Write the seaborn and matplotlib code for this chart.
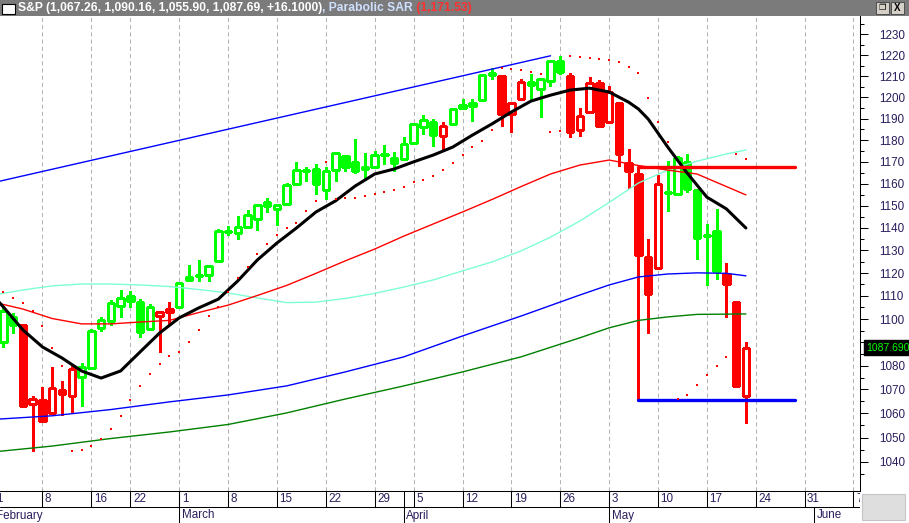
import numpy as np
import pandas as pd
import matplotlib
matplotlib.use("Agg")
import matplotlib.pyplot as plt
import matplotlib.transforms as mtransforms
from matplotlib.patches import Rectangle
from matplotlib.ticker import FixedLocator, FuncFormatter
import seaborn as sns

# ---- daily bars, S&P 500, Feb - May 2010 ----
feb_days = [1, 2, 3, 4, 5, 8, 9, 10, 11, 12, 16, 17, 18, 19, 22, 23, 24, 25, 26]
mar_days = [1, 2, 3, 4, 5, 8, 9, 10, 11, 12, 15, 16, 17, 18, 19, 22, 23, 24, 25, 26, 29, 30, 31]
apr_days = [1, 5, 6, 7, 8, 9, 12, 13, 14, 15, 16, 19, 20, 21, 22, 23, 26, 27, 28, 29, 30]
may_days = [3, 4, 5, 6, 7, 10, 11, 12, 13, 14, 17, 18, 19, 20, 21]

opens = [1073.89, 1090.05, 1100.67, 1097.25, 1064.12, 1065.51, 1060.06, 1069.68, 1067.10, 1075.30,
         1079.13, 1096.14, 1099.03, 1105.49, 1110.00, 1107.49, 1095.89, 1101.24, 1103.10,
         1105.36, 1117.01, 1119.36, 1119.12, 1125.12, 1138.40, 1137.56, 1140.22, 1143.96, 1151.71,
         1148.53, 1150.83, 1159.94, 1166.13, 1166.68, 1157.25, 1166.47, 1172.70, 1170.03, 1167.58,
         1167.71, 1173.75, 1171.75,
         1171.23, 1178.71, 1186.01, 1188.23, 1181.75, 1187.47, 1194.94, 1195.94, 1198.69, 1210.77,
         1210.17, 1192.06, 1199.04, 1207.16, 1203.79, 1207.87, 1217.07, 1209.92, 1184.59, 1193.30,
         1206.77,
         1188.58, 1197.50, 1169.24, 1164.38, 1127.04, 1122.27, 1156.39, 1155.43, 1170.04, 1157.19,
         1136.52, 1138.78, 1119.57, 1107.34, 1067.26]
highs = [1089.38, 1104.73, 1102.72, 1097.25, 1067.13, 1071.20, 1079.28, 1073.67, 1080.04, 1081.00,
         1095.67, 1101.03, 1108.24, 1112.42, 1112.29, 1108.58, 1106.42, 1103.50, 1107.24,
         1116.11, 1123.46, 1125.64, 1123.73, 1139.38, 1141.05, 1145.37, 1148.26, 1150.24, 1153.41,
         1150.98, 1160.28, 1169.84, 1167.77, 1169.20, 1167.82, 1174.72, 1173.04, 1180.69, 1173.93,
         1174.85, 1177.83, 1174.56,
         1181.43, 1187.73, 1191.80, 1189.60, 1188.55, 1194.66, 1199.20, 1199.04, 1210.65, 1213.92,
         1210.17, 1197.87, 1208.58, 1210.99, 1208.84, 1217.28, 1219.80, 1211.38, 1195.05, 1209.36,
         1207.99,
         1205.13, 1197.50, 1175.95, 1167.58, 1135.13, 1163.85, 1170.48, 1172.87, 1173.57, 1157.19,
         1141.88, 1148.66, 1124.27, 1107.34, 1090.16]
lows = [1073.89, 1087.96, 1093.97, 1062.78, 1044.50, 1056.51, 1060.06, 1059.34, 1060.59, 1062.97,
        1079.13, 1094.72, 1097.48, 1100.80, 1105.38, 1092.18, 1095.50, 1086.02, 1097.56,
        1105.36, 1116.51, 1116.58, 1116.66, 1125.12, 1136.77, 1134.90, 1140.09, 1138.99, 1146.97,
        1141.45, 1150.35, 1159.94, 1161.16, 1155.33, 1152.88, 1161.02, 1166.01, 1165.09, 1161.48,
        1167.71, 1168.92, 1165.77,
        1170.69, 1178.71, 1182.77, 1177.25, 1175.12, 1187.15, 1194.71, 1188.82, 1198.69, 1208.50,
        1186.77, 1183.68, 1199.04, 1198.85, 1190.60, 1205.10, 1211.07, 1181.62, 1181.81, 1193.30,
        1186.32,
        1188.58, 1168.12, 1158.15, 1065.79, 1094.15, 1122.27, 1147.71, 1155.43, 1156.14, 1126.14,
        1114.96, 1117.20, 1100.66, 1071.58, 1055.90]
closes = [1089.19, 1103.32, 1097.28, 1063.11, 1066.19, 1056.74, 1070.52, 1068.13, 1078.47, 1079.60,
          1094.87, 1099.51, 1106.75, 1109.17, 1108.01, 1094.60, 1105.24, 1102.93, 1104.49,
          1115.71, 1118.31, 1118.79, 1122.97, 1138.70, 1138.50, 1140.45, 1145.61, 1150.24, 1149.99,
          1150.51, 1159.46, 1166.21, 1165.83, 1159.90, 1165.81, 1174.17, 1167.72, 1165.73, 1166.59,
          1173.22, 1173.27, 1169.43,
          1178.10, 1187.44, 1189.44, 1182.45, 1186.44, 1194.37, 1196.48, 1197.30, 1210.65, 1211.67,
          1192.13, 1197.52, 1207.17, 1205.94, 1208.67, 1217.28, 1212.05, 1183.71, 1191.36, 1206.78,
          1186.69,
          1202.26, 1173.60, 1165.87, 1128.15, 1110.88, 1159.73, 1155.79, 1171.67, 1157.44, 1135.68,
          1136.94, 1120.80, 1115.05, 1071.59, 1087.69]
# g = green bar, r = red bar (as coloured by the charting package)
bar_colors = "gggrrrrrrggggggggrr" + "g" * 23 + "ggggrgggggrrrggggrrrr" + "rrrrrrggggggrrr"

# ---- indicator lines (bar index -> price) ----
black_at = [0, 1, 3, 5, 7, 9, 11, 13, 15, 17, 19, 21, 23, 25, 27, 29, 31, 33, 35, 37, 39, 41,
            43, 45, 47, 49, 51, 53, 55, 57, 59, 61, 63, 65, 66, 67, 69, 71, 73, 75, 77]
black_ma = [1110.0, 1105.2, 1095.3, 1088.0, 1083.3, 1077.8, 1074.8, 1077.8, 1085.9, 1094.0,
            1100.5, 1104.8, 1108.6, 1116.6, 1125.8, 1133.3, 1140.0, 1147.2, 1152.2, 1158.9,
            1164.4, 1166.7, 1170.0, 1173.1, 1176.8, 1182.3, 1187.5, 1193.1, 1198.2, 1201.0,
            1203.4, 1204.3, 1202.5, 1197.7, 1194.5, 1189.8, 1176.8, 1164.8, 1153.9, 1148.6, 1140.0]

thin_at = [0, 3, 6, 9, 12, 15, 18, 21, 24, 27, 30, 33, 36, 39, 42, 45, 48, 51, 54, 57, 60, 63,
           66, 69, 72, 75, 77]
red_ma = [1107.3, 1104.3, 1100.2, 1097.9, 1097.9, 1098.7, 1099.4, 1102.8, 1106.0, 1110.2,
          1114.6, 1119.9, 1125.4, 1130.6, 1136.4, 1141.8, 1147.2, 1152.8, 1158.7, 1164.4,
          1168.5, 1170.8, 1168.3, 1166.2, 1164.4, 1158.7, 1154.9]
cyan_ma = [1110.4, 1112.6, 1114.4, 1115.2, 1115.2, 1114.8, 1114.1, 1112.8, 1111.3, 1109.1,
           1107.1, 1107.3, 1108.9, 1111.1, 1113.9, 1117.0, 1121.0, 1124.9, 1129.8, 1135.9,
           1143.1, 1151.5, 1160.3, 1166.2, 1170.3, 1173.6, 1175.4]

slow_at = [0, 6, 12, 18, 24, 30, 36, 42, 48, 54, 60, 63, 66, 69, 72, 75, 77]
blue_ma = [1057.5, 1059.0, 1061.6, 1064.8, 1067.7, 1071.5, 1077.4, 1083.8, 1092.7, 1101.3,
           1110.4, 1114.8, 1118.3, 1119.6, 1120.1, 1119.9, 1118.8]
green_ma = [1044.1, 1046.5, 1049.6, 1052.3, 1055.4, 1060.2, 1066.0, 1071.5, 1077.4, 1083.8,
            1091.9, 1096.2, 1099.4, 1100.9, 1102.0, 1102.1, 1102.2]

sar = [1114.0, 1111.6, 1109.2, 1106.9, 1103.5, 1097.0, 1087.6, 1080.0,
       1044.5, 1044.9, 1046.6, 1049.4, 1053.5, 1058.9, 1065.6, 1071.3, 1076.5, 1080.9, 1084.2,
       1085.9, 1090.1, 1095.3, 1101.2, 1105.2, 1111.7, 1117.9, 1122.7, 1128.4, 1132.8, 1136.8,
       1140.0, 1142.2, 1147.6, 1152.1, 1169.8, 1152.9, 1153.3, 1153.5, 1154.3, 1155.2, 1156.0,
       1157.1, 1158.3, 1160.8, 1161.7, 1163.5, 1166.2, 1169.4, 1173.0, 1176.8, 1179.5, 1184.7,
       1213.9, 1213.3, 1212.7, 1211.9, 1211.0, 1183.7, 1184.4,
       1219.8, 1219.0, 1218.5, 1218.1, 1217.7, 1216.7, 1214.3, 1211.5, 1199.6, 1188.3, 1179.0,
       1065.8, 1067.7, 1071.9, 1076.2, 1080.0, 1083.8, 1173.6, 1171.5]

trend_dates = ["2010-02-01", "2010-04-23"]
trend_vals = [1160.5, 1219.7]
level_dates = ["2010-05-06", "2010-05-28"]
resistance = 1167.58
support = 1065.79

week_ticks = ["2010-02-01", "2010-02-08", "2010-02-16", "2010-02-22", "2010-03-01", "2010-03-08",
              "2010-03-15", "2010-03-22", "2010-03-29", "2010-04-05", "2010-04-12", "2010-04-19",
              "2010-04-26", "2010-05-03", "2010-05-10", "2010-05-17", "2010-05-24", "2010-05-31",
              "2010-06-07"]
week_labels = ["1", "8", "16", "22", "1", "8", "15", "22", "29", "5", "12", "19", "26",
               "3", "10", "17", "24", "31", "7"]
month_starts = ["2010-02-01", "2010-03-01", "2010-04-01", "2010-05-03", "2010-06-01"]
month_labels = ["February", "March", "April", "May", "June"]

header_main = "S&P (1,067.26, 1,090.16, 1,055.90, 1,087.69, +16.1000)"
header_ind = "Parabolic SAR"
header_val = " (1,171.53)"
last_close = "1087.690"

# ---- style ----
sns.set_style("white")
FONT = ["Liberation Sans", "DejaVu Sans"]
plt.rcParams["font.family"] = FONT
plt.rcParams["lines.scale_dashes"] = False
GREEN = "#00ff00"
RED = "#ff0000"
TXT = "#2b1d5c"
W, H = 909, 523


def fx(px):
    return px / W


def fy(py):
    return 1 - py / H


# trading-day slots (the axis skips weekends and exchange holidays)
cal = pd.bdate_range("2010-02-01", "2010-06-11").drop(pd.to_datetime(["2010-02-15", "2010-04-02"]))
slot = pd.Series(np.arange(len(cal)), index=cal)


def pos(d):
    return slot[pd.Timestamp(d)]


bar_dates = ([f"2010-02-{d:02d}" for d in feb_days] + [f"2010-03-{d:02d}" for d in mar_days]
             + [f"2010-04-{d:02d}" for d in apr_days] + [f"2010-05-{d:02d}" for d in may_days])
xs = np.array([pos(d) for d in bar_dates])

fig = plt.figure(figsize=(W / 100, H / 100), dpi=100)
fig.patch.set_facecolor("white")

PLOT_TOP, PLOT_BOT, PLOT_RIGHT = 16, 491, 859.5
ax = fig.add_axes([0, fy(PLOT_BOT), fx(PLOT_RIGHT), (PLOT_BOT - PLOT_TOP) / H])
ax.set_facecolor("white")
ax.set_yscale("log")
x0 = 6.4 / 9.77
ax.set_xlim(x0, x0 + PLOT_RIGHT / 9.77)
ax.set_ylim(1028.2, 1238.9)

# weekly dashed grid
for d in week_ticks:
    ax.axvline(pos(d), color="#b4b4b4", lw=0.75, ls=(0, (3, 2.2)), zorder=1)

# candles
BODY = 0.66
for x, o, h, l, c, col in zip(xs, opens, highs, lows, closes, bar_colors):
    colr = GREEN if col == "g" else RED
    ax.vlines(x, l, h, color=colr, lw=0.75, zorder=3, antialiased=False)
    lo, hi = min(o, c), max(o, c)
    ax.add_patch(Rectangle((x - BODY / 2, lo), BODY, hi - lo,
                           facecolor="white" if c >= o else colr, edgecolor=colr,
                           lw=0.75, zorder=4, antialiased=False))

# indicator lines
sns.lineplot(x=xs[thin_at], y=cyan_ma, ax=ax, color="#7fffd4", lw=1.0, sort=False, zorder=5)
sns.lineplot(x=xs[slow_at], y=green_ma, ax=ax, color="#008000", lw=1.0, sort=False, zorder=5)
sns.lineplot(x=xs[slow_at], y=blue_ma, ax=ax, color="#0000ff", lw=1.0, sort=False, zorder=5)
sns.lineplot(x=xs[thin_at], y=red_ma, ax=ax, color=RED, lw=1.0, sort=False, zorder=5)
sns.lineplot(x=xs[black_at], y=black_ma, ax=ax, color="black", lw=2.2, sort=False, zorder=6)
sns.lineplot(x=[pos(d) for d in trend_dates], y=trend_vals, ax=ax, color="#0000ff", lw=1.0,
             sort=False, zorder=5)
lx = [pos(d) for d in level_dates]
sns.lineplot(x=lx, y=[resistance] * 2, ax=ax, color=RED, lw=2.4, sort=False, zorder=7)
sns.lineplot(x=lx, y=[support] * 2, ax=ax, color="#0000ff", lw=2.4, sort=False, zorder=7)

# parabolic SAR dots
sns.scatterplot(x=xs, y=sar, ax=ax, color=RED, marker="s", s=2.2, linewidth=0, zorder=7)

# price axis on the right
ax.yaxis.tick_right()
ax.yaxis.set_major_locator(FixedLocator(np.arange(1040, 1231, 10)))
ax.yaxis.set_minor_locator(FixedLocator(np.arange(1035, 1240, 10)))
ax.yaxis.set_major_formatter(FuncFormatter(lambda v, p: "" if round(v) == 1090 else f"{v:.0f}"))
ax.yaxis.set_minor_formatter(FuncFormatter(lambda v, p: ""))
ax.tick_params(axis="y", which="major", length=5.8, width=0.75, color="black", pad=8.2,
               labelsize=8.4, labelcolor=TXT, right=True, left=False)
ax.tick_params(axis="y", which="minor", length=2.9, width=0.75, color="black", right=True, left=False)
ax.set_xticks([])
ax.set_xlabel("")
ax.set_ylabel("")
for side in ["left", "top"]:
    ax.spines[side].set_visible(False)
for side in ["right", "bottom"]:
    ax.spines[side].set_color("black")
    ax.spines[side].set_linewidth(0.75)

# last close marker box
ax.annotate(last_close, xy=(866 / PLOT_RIGHT, closes[-1]), xycoords=("axes fraction", "data"),
            color=GREEN, fontsize=7.5, va="center", ha="left", annotation_clip=False, zorder=10,
            bbox=dict(boxstyle="square,pad=0.22", fc="black", ec="black"))

# ---- date axis (two rows) ----
axd = fig.add_axes([0, 0, fx(PLOT_RIGHT), (H - PLOT_BOT) / H])
axd.set_xlim(ax.get_xlim())
axd.set_ylim(0, H - PLOT_BOT)
axd.axis("off")
axd.axhline(16, color="black", lw=0.75)
row1_sep = [pos(d) for d in week_ticks] + [pos(d) for d in month_starts[:4]]
axd.vlines(row1_sep, 16, 32, color="black", lw=0.75)
axd.vlines([pos(d) for d in month_starts], 0, 16, color="black", lw=0.75)
off = mtransforms.offset_copy(axd.transData, fig=fig, x=2.5, y=0, units="dots")
for d, lab in zip(week_ticks, week_labels):
    axd.text(pos(d), 24, lab, transform=off, fontsize=8.4, color=TXT, va="center", ha="left",
             clip_on=True)
for d, lab in zip(month_starts, month_labels):
    axd.text(pos(d), 7.5, lab, transform=off, fontsize=8.4, color=TXT, va="center", ha="left",
             clip_on=True)

# bottom right corner box
fig.patches.append(Rectangle((fx(862), fy(520)), fx(43), 26 / H, transform=fig.transFigure,
                             facecolor="#dedede", edgecolor="#c4c4c4", lw=0.8))

# ---- window header ----
fig.patches.append(Rectangle((0, fy(16)), 1, 16 / H, transform=fig.transFigure,
                             facecolor="#7b7b7b", edgecolor="none"))
fig.patches.append(Rectangle((fx(2), fy(14)), fx(13), 10 / H, transform=fig.transFigure,
                             facecolor="white", edgecolor="black", lw=0.8))
for bx in (876, 891):
    fig.patches.append(Rectangle((fx(bx), fy(14)), fx(13), 12 / H, transform=fig.transFigure,
                                 facecolor="#d4d0c8", edgecolor="#404040", lw=0.6))
fig.text(fx(882.5), fy(8), "\u2750", fontsize=6, color="black", ha="center", va="center",
         family=["DejaVu Sans"])
fig.text(fx(897.5), fy(8), "X", fontsize=7, fontweight="bold", color="black", ha="center",
         va="center")

t1 = fig.text(fx(18), fy(8), header_main, color="white", fontsize=8.7, fontweight="bold",
              va="center", ha="left")
fig.canvas.draw()
rend = fig.canvas.get_renderer()
e1 = t1.get_window_extent(rend)
t2 = fig.text(e1.x1 / W, fy(8), ", " + header_ind, color="#cfe0ff", fontsize=8.7,
              fontweight="bold", va="center", ha="left")
fig.canvas.draw()
e2 = t2.get_window_extent(rend)
fig.text(e2.x1 / W, fy(8), header_val, color="#ff3030", fontsize=8.7, fontweight="bold",
         va="center", ha="left")

fig.savefig("out.png", dpi=100)
plt.close(fig)
